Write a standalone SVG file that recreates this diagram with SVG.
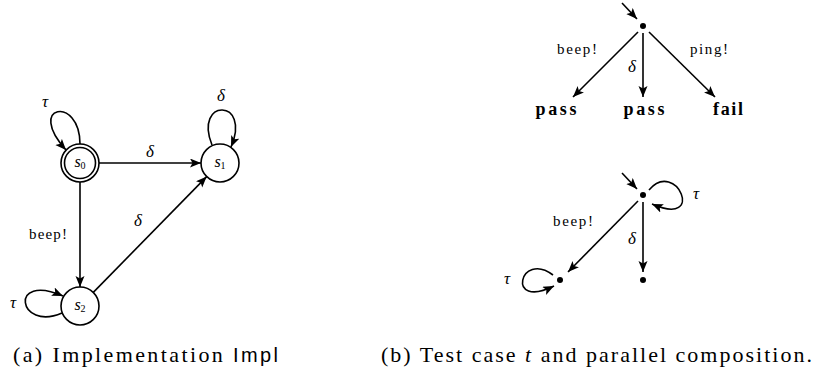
<svg xmlns="http://www.w3.org/2000/svg" width="817" height="374" viewBox="0 0 817 374">
  <defs>
    <marker id="arrow" markerUnits="userSpaceOnUse" markerWidth="12" markerHeight="10" refX="11" refY="4.5" orient="auto">
      <path d="M0,0 L11,4.5 L0,9 L2.5,4.5 z" fill="#000"/>
    </marker>
  </defs>
  <style>
    .edge { fill: none; stroke: #000; stroke-width: 1.6; marker-end: url(#arrow); }
    .state { fill: #fff; stroke: #000; stroke-width: 1.6; }
    .dot { fill: #000; }
  </style>

  <!-- (a) implementation LTS -->
  <g id="connectors-impl">
    <path class="edge" d="M80,144 C80,95 25,105 66,150"/>
    <path class="edge" d="M212,145 C193,98 252,98 231,147"/>
    <path class="edge" d="M62,313 C18,332 8,272 63,296"/>
    <path class="edge" d="M99,163 L201,163"/>
    <path class="edge" d="M80,182 L80,287"/>
    <path class="edge" d="M93.3,292.4 L206.7,176.6"/>
    <g font-family="Liberation Serif" font-style="italic" font-size="17" text-anchor="middle">
      <text x="45" y="107">τ</text>
      <text x="221" y="101">δ</text>
      <text x="150" y="157">δ</text>
      <text x="138" y="226">δ</text>
      <text x="13" y="308">τ</text>
    </g>
    <text font-family="Liberation Serif" font-size="15" text-anchor="middle" x="48" y="239" textLength="38" lengthAdjust="spacing">beep!</text>
  </g>
  <g id="s0">
    <circle class="state" cx="80" cy="163" r="19"/>
    <circle class="state" cx="80" cy="163" r="15.5"/>
    <text font-family="Liberation Serif" font-style="italic" font-size="16" text-anchor="middle" x="80" y="167">s<tspan font-size="10" font-style="normal" dy="2">0</tspan></text>
  </g>
  <g id="s1">
    <circle class="state" cx="220" cy="163" r="19"/>
    <text font-family="Liberation Serif" font-style="italic" font-size="16" text-anchor="middle" x="220" y="167">s<tspan font-size="10" font-style="normal" dy="2">1</tspan></text>
  </g>
  <g id="s2">
    <circle class="state" cx="80" cy="306" r="19"/>
    <text font-family="Liberation Serif" font-style="italic" font-size="16" text-anchor="middle" x="80" y="310">s<tspan font-size="10" font-style="normal" dy="2">2</tspan></text>
  </g>

  <!-- (b) test case t -->
  <g id="connectors-test">
    <path class="edge" d="M622,3 L637,19"/>
    <path class="edge" d="M638,32 L573,97"/>
    <path class="edge" d="M643,33 L643,97"/>
    <path class="edge" d="M649,32 L715,97"/>
    <text font-family="Liberation Serif" font-size="15" text-anchor="middle" x="577" y="54" textLength="40" lengthAdjust="spacing">beep!</text>
    <text font-family="Liberation Serif" font-style="italic" font-size="17" text-anchor="middle" x="632" y="72">δ</text>
    <text font-family="Liberation Serif" font-size="15" text-anchor="middle" x="709" y="54" textLength="38" lengthAdjust="spacing">ping!</text>
  </g>
  <g id="t-root"><circle class="dot" cx="643" cy="26" r="3"/></g>
  <g id="t-verdicts" font-family="Liberation Serif" font-weight="bold" font-size="18" text-anchor="middle">
    <text id="t-pass1" x="556" y="115" textLength="41" lengthAdjust="spacing">pass</text>
    <text id="t-pass2" x="644" y="115" textLength="41" lengthAdjust="spacing">pass</text>
    <text id="t-fail" x="728" y="115" textLength="30" lengthAdjust="spacing">fail</text>
  </g>

  <!-- (b) parallel composition -->
  <g id="connectors-comp">
    <path class="edge" d="M622,173 L637,189"/>
    <path class="edge" d="M649,190 C676,158 707,228 652,204"/>
    <path class="edge" d="M638,201 L568,272"/>
    <path class="edge" d="M643,202 L643,272"/>
    <path class="edge" d="M553,275 C520,250 505,310 554,286"/>
    <text font-family="Liberation Serif" font-size="15" text-anchor="middle" x="573" y="226" textLength="40" lengthAdjust="spacing">beep!</text>
    <g font-family="Liberation Serif" font-style="italic" font-size="17" text-anchor="middle">
      <text x="632" y="244">δ</text>
      <text x="696" y="199">τ</text>
      <text x="507" y="284">τ</text>
    </g>
  </g>
  <g id="c-root"><circle class="dot" cx="643" cy="195" r="3"/></g>
  <g id="c-left"><circle class="dot" cx="560" cy="280" r="3"/></g>
  <g id="c-down"><circle class="dot" cx="643" cy="280" r="3"/></g>

  <!-- captions -->
  <text font-family="Liberation Serif" font-size="22" x="13" y="362" textLength="265" lengthAdjust="spacing">(a) Implementation <tspan font-family="Liberation Sans" font-size="20">Impl</tspan></text>
  <text font-family="Liberation Serif" font-size="22" x="381" y="362" textLength="431" lengthAdjust="spacing">(b) Test case <tspan font-style="italic">t</tspan> and parallel composition.</text>
</svg>
